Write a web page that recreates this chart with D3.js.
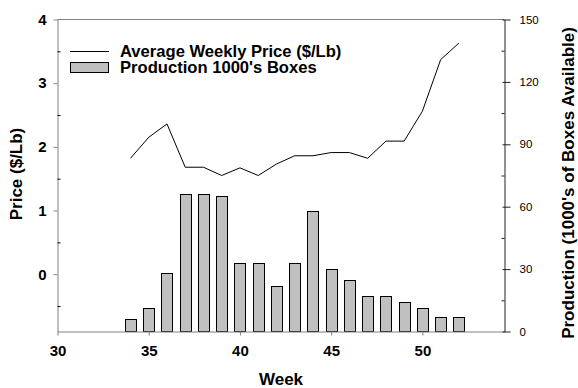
<!DOCTYPE html>
<html>
<head>
<meta charset="utf-8">
<script src="https://cdn.jsdelivr.net/npm/d3@7"></script>
<style>
  html, body { margin: 0; padding: 0; background: #fff; }
  svg { display: block; font-family: "Liberation Sans", Arial, sans-serif; }
</style>
</head>
<body>
<svg id="chart" width="578" height="388"></svg>
<script>
// Weekly data
const weeks = [34, 35, 36, 37, 38, 39, 40, 41, 42, 43, 44, 45, 46, 47, 48, 49, 50, 51, 52];
const price = [1.82, 2.15, 2.36, 1.68, 1.68, 1.55, 1.67, 1.55, 1.73, 1.86, 1.86, 1.91, 1.91, 1.82, 2.09, 2.09, 2.56, 3.37, 3.63];
const production = [6, 11.5, 28, 66, 66, 65, 33, 33, 22, 33, 58, 30, 25, 17, 17, 14, 11.5, 7, 7];

// Tick values
const weekTicks = [30, 35, 40, 45, 50];
const priceTicks = [0, 1, 2, 3, 4];
const priceMinor = [-0.5, 0.5, 1.5, 2.5, 3.5];
const prodTicks = [0, 30, 60, 90, 120, 150];
const prodMinor = [15, 45, 75, 105, 135];

const legendLabels = ["Average Weekly Price ($/Lb)", "Production 1000's Boxes"];

const svg = d3.select("#chart");
const plot = { left: 57.5, right: 504.5, top: 19.5, bottom: 331.5 };

const x = d3.scaleLinear().domain([30, 54.5]).range([plot.left, plot.right]);
const yPrice = d3.scaleLinear().domain([-0.9, 4]).range([plot.bottom, plot.top]);
const yProd = d3.scaleLinear().domain([0, 150]).range([plot.bottom, plot.top]);

const barW = (x(1) - x(0)) * 0.6;

// Production bars
svg.append("g")
  .selectAll("rect")
  .data(weeks)
  .join("rect")
  .attr("x", (d) => Math.round(x(d) - barW / 2) + 0.5)
  .attr("width", Math.round(barW))
  .attr("y", (d, i) => Math.round(yProd(production[i])) + 0.5)
  .attr("height", (d, i) => plot.bottom - (Math.round(yProd(production[i])) + 0.5))
  .attr("fill", "#c0c0c0")
  .attr("stroke", "#000")
  .attr("stroke-width", 1);

// Price line
const line = d3.line()
  .x((d) => x(d))
  .y((d, i) => yPrice(price[i]));
svg.append("path")
  .datum(weeks)
  .attr("d", line)
  .attr("fill", "none")
  .attr("stroke", "#000")
  .attr("stroke-width", 1);

// Top frame line
svg.append("line")
  .attr("x1", plot.left).attr("x2", plot.right)
  .attr("y1", plot.top).attr("y2", plot.top)
  .attr("stroke", "#808080");

function styleAxis(g, color) {
  g.select(".domain").attr("stroke", color);
  g.selectAll(".tick line").attr("stroke", color);
}

// Bottom axis
const gx = svg.append("g")
  .attr("transform", `translate(0,${plot.bottom})`)
  .call(d3.axisBottom(x).tickValues(weekTicks).tickFormat(d3.format("d"))
    .tickSize(4).tickSizeOuter(0).tickPadding(10));
styleAxis(gx, "#808080");
gx.selectAll("text")
  .attr("font-size", 15).attr("font-weight", "bold").attr("fill", "#000")
  .attr("font-family", "Liberation Sans, Arial, sans-serif");

// Left axis (price)
const gl = svg.append("g")
  .attr("transform", `translate(${plot.left},0)`)
  .call(d3.axisLeft(yPrice).tickValues(priceTicks).tickFormat(d3.format("d"))
    .tickSize(4).tickSizeOuter(0).tickPadding(7));
styleAxis(gl, "#808080");
gl.selectAll("text")
  .attr("font-size", 15).attr("font-weight", "bold").attr("fill", "#000")
  .attr("font-family", "Liberation Sans, Arial, sans-serif");
const glm = svg.append("g")
  .attr("transform", `translate(${plot.left},0)`)
  .call(d3.axisLeft(yPrice).tickValues(priceMinor).tickSize(-3).tickSizeOuter(0).tickFormat(""));
glm.select(".domain").remove();
glm.selectAll(".tick line").attr("stroke", "#000");

// Right axis (production)
const gr = svg.append("g")
  .attr("transform", `translate(${plot.right},0)`)
  .call(d3.axisRight(yProd).tickValues(prodTicks).tickFormat(d3.format("d"))
    .tickSize(6).tickSizeOuter(0).tickPadding(9));
styleAxis(gr, "#222");
gr.selectAll(".tick line").attr("x1", -2);
gr.selectAll("text")
  .attr("font-size", 11.5).attr("fill", "#000")
  .attr("font-family", "Liberation Sans, Arial, sans-serif");
const grm = svg.append("g")
  .attr("transform", `translate(${plot.right},0)`)
  .call(d3.axisRight(yProd).tickValues(prodMinor).tickSize(-3).tickSizeOuter(0).tickFormat(""));
grm.select(".domain").remove();
grm.selectAll(".tick line").attr("stroke", "#222");

// Axis titles
svg.append("text")
  .attr("x", 281).attr("y", 385)
  .attr("text-anchor", "middle")
  .attr("font-size", 17).attr("font-weight", "bold")
  .text("Week");

svg.append("text")
  .attr("transform", "translate(22,174) rotate(-90)")
  .attr("text-anchor", "middle")
  .attr("font-size", 17).attr("font-weight", "bold")
  .text("Price ($/Lb)");

svg.append("text")
  .attr("transform", "translate(574,183) rotate(-90)")
  .attr("text-anchor", "middle")
  .attr("font-size", 17).attr("font-weight", "bold")
  .text("Production (1000's of Boxes Available)");

// Legend
const lg = svg.append("g");
lg.append("line")
  .attr("x1", 70).attr("x2", 109).attr("y1", 51.5).attr("y2", 51.5)
  .attr("stroke", "#000").attr("stroke-width", 1);
lg.append("rect")
  .attr("x", 70.5).attr("y", 62.5).attr("width", 38).attr("height", 10)
  .attr("fill", "#c0c0c0").attr("stroke", "#000");
lg.selectAll("text.lbl")
  .data(legendLabels)
  .join("text")
  .attr("class", "lbl")
  .attr("x", 120)
  .attr("y", (d, i) => 56.5 + i * 16)
  .attr("font-size", 16.6).attr("font-weight", "bold")
  .text((d) => d);
</script>
</body>
</html>
